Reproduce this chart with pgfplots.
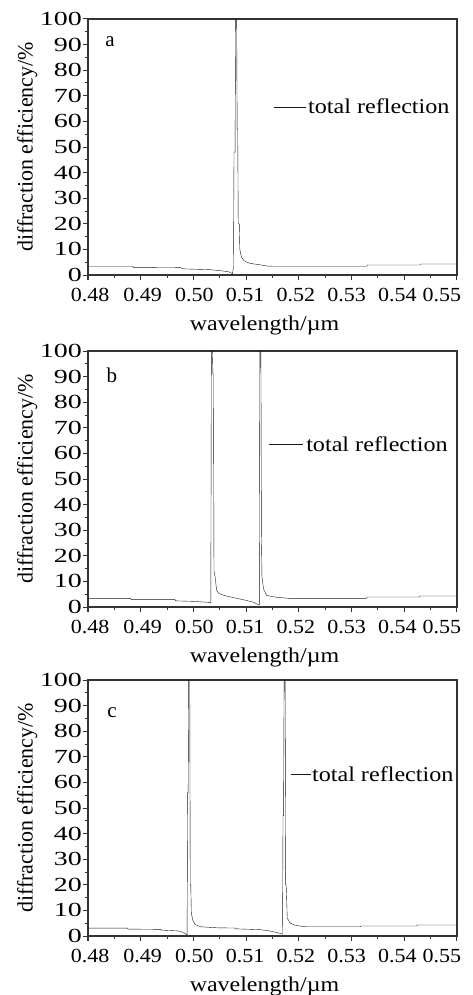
\documentclass[border=0pt]{standalone}
\usepackage{graphicx}
\usepackage{fontspec}
\setmainfont{Liberation Serif}
\usepackage{pgfplots}
\pgfplotsset{compat=1.18}
\newcommand\lbl[2]{\makebox[0pt][c]{\hspace*{#1pt}\hspace*{#1pt}\scalebox{1.1}[1]{#2}}}
\pgfplotsset{
  panel/.style={
    scale only axis, width=369pt, height=256pt,
    xmin=0.48, xmax=0.55, ymin=0, ymax=100,
    xtick={0.48,0.49,0.50,0.51,0.52,0.53,0.54,0.55},
    xticklabels={\lbl{2}{0.48},\lbl{2}{0.49},\lbl{1}{0.50},\lbl{-1}{0.51},\lbl{-3}{0.52},\lbl{-5}{0.53},\lbl{-7}{0.54},\lbl{-15}{0.55}},
    ytick={0,10,20,30,40,50,60,70,80,90,100},
    minor x tick num=1, minor y tick num=1,
    xtick pos=bottom, ytick pos=left, tick align=outside,
    major tick length=5pt, minor tick length=3pt,
    axis line style={black!80, line width=1.1pt},
    every tick/.style={black!80, line width=1pt},
    yticklabel={\scalebox{1.4}[1]{\pgfmathprintnumber[assume math mode=true]{\tick}}},
    ticklabel style={font=\fontsize{20}{22}\selectfont},
    xticklabel style={inner sep=1pt, yshift=-7pt},
    yticklabel style={inner sep=1pt},
    xlabel style={font=\fontsize{21}{24}\selectfont, yshift=-10pt, xshift=-8pt},
    ylabel style={font=\fontsize{22}{24}\selectfont, yshift=-2pt},
    xlabel={\scalebox{1.14}[1]{wavelength/µm}},
    ylabel={diffraction efficiency/\%},
    legend style={draw=none, fill=none, inner sep=0pt, font=\fontsize{21}{24}\selectfont, nodes={inner sep=2pt}},
    legend cell align=left,
    cycle list={{black!90, line width=1.4pt, mark=none}},
  },
}
\begin{document}
\begin{tikzpicture}
\useasboundingbox (0pt,0pt) rectangle (473pt,-995pt);
% panel a
\begin{axis}[panel, at={(88pt,-275pt)}, anchor=south west,
  legend image code/.code={\draw[#1, line width=1pt] (0pt,0pt) -- (32pt,0pt);},
  legend style={at={(axis description cs:0.501,0.656)}, anchor=west}]
\addplot coordinates {(0.48,3.4)(0.4885,3.4)(0.4886,3.0)(0.4975,2.9)(0.498,2.4)(0.503,2.1)(0.5055,1.6)(0.5068,1.2)(0.5074,0.5)(0.5076,3)(0.5077,48)(0.5079,48)(0.5080,100)(0.5082,100)(0.5083,57)(0.5084,57)(0.5085,20)(0.5087,20)(0.5088,10)(0.5091,7)(0.5096,5.6)(0.5105,4.7)(0.5115,4.3)(0.5126,4.0)(0.514,3.5)(0.5155,3.4)(0.5329,3.4)(0.533,3.9)(0.543,3.9)(0.5431,4.3)(0.55,4.3)};
\addlegendentry{\scalebox{1.15}[1]{total reflection}}
\node[font=\fontsize{21}{24}\selectfont] at (axis description cs:0.06,0.91) {a};
\end{axis}
% panel b
\begin{axis}[panel, at={(88pt,-607pt)}, anchor=south west,
  legend image code/.code={\draw[#1, line width=1pt] (0pt,0pt) -- (34pt,0pt);},
  legend style={at={(axis description cs:0.488,0.633)}, anchor=west, nodes={inner sep=3pt}}]
\addplot coordinates {(0.48,3.4)(0.4881,3.4)(0.4882,2.9)(0.4965,2.9)(0.4966,2.4)(0.5,2.2)(0.503,1.8)(0.5033,1.6)(0.5034,100)(0.5036,100)(0.5037,91)(0.5038,91)(0.5039,14)(0.5041,12)(0.5044,6.5)(0.5048,5.3)(0.506,4.4)(0.508,3.5)(0.510,2.6)(0.5115,1.8)(0.5122,1.0)(0.5125,0.8)(0.5126,100)(0.5128,100)(0.5129,28)(0.5130,12)(0.5133,7)(0.5139,4.5)(0.5158,3.8)(0.518,3.4)(0.5328,3.4)(0.533,3.9)(0.5429,3.9)(0.543,4.3)(0.55,4.3)};
\addlegendentry{\scalebox{1.15}[1]{total reflection}}
\node[font=\fontsize{21}{24}\selectfont] at (axis description cs:0.065,0.906) {b};
\end{axis}
% panel c
\begin{axis}[panel, at={(88pt,-936pt)}, anchor=south west,
  legend image code/.code={\draw[#1, line width=1pt] (0pt,0pt) -- (20pt,0pt);},
  legend style={at={(axis description cs:0.547,0.629)}, anchor=west, nodes={inner sep=1pt}}]
\addplot coordinates {(0.48,3.1)(0.4875,3.1)(0.4876,2.7)(0.4938,2.6)(0.4939,2.3)(0.497,2.0)(0.4978,1.6)(0.4984,1.0)(0.4988,0.4)(0.4989,56)(0.4990,56)(0.4991,100)(0.4993,100)(0.4994,20)(0.4995,20)(0.4996,9)(0.4999,6)(0.5003,4.5)(0.5014,3.6)(0.5046,3.2)(0.5080,3.1)(0.5081,2.8)(0.5125,2.5)(0.5141,2.1)(0.5155,1.5)(0.5165,1.0)(0.5169,0.7)(0.5170,47)(0.5171,47)(0.5172,100)(0.5174,100)(0.5175,20)(0.5176,20)(0.5178,7)(0.5183,5.2)(0.5191,4.3)(0.5205,3.8)(0.5216,3.6)(0.5317,3.6)(0.5318,3.9)(0.5424,3.9)(0.5425,4.3)(0.55,4.3)};
\addlegendentry{\scalebox{1.15}[1]{total reflection}}
\node[font=\fontsize{21}{24}\selectfont] at (axis description cs:0.065,0.871) {c};
\end{axis}
\end{tikzpicture}
\end{document}
